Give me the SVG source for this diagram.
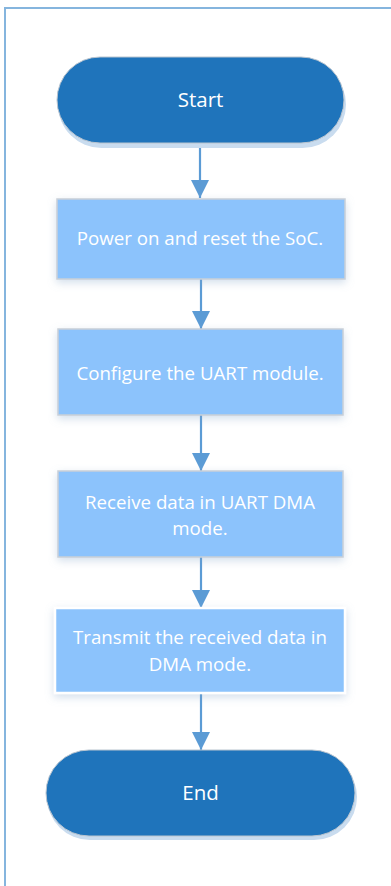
<svg xmlns="http://www.w3.org/2000/svg" width="391" height="886" viewBox="0 0 391 886">
<style>
.pill{fill:#1f74bb;stroke:#b9c4cf;stroke-width:1}
.pillsh{fill:#c9dcef}
.box{fill:#8cc3fc;stroke:#c9d0d8;stroke-width:1.5}
.box4{fill:#8cc3fc;stroke:#ffffff;stroke-width:2.5}
.t{font-family:"Open Sans","Liberation Sans",sans-serif;font-size:18.7px;fill:#ffffff;text-anchor:middle}
.tp{font-size:20.5px}
.c{stroke:#5b9bd5;stroke-width:2.2;fill:none}
</style>
<defs>
<filter id="sh" x="-20%" y="-30%" width="140%" height="160%">
<feDropShadow dx="0" dy="3" stdDeviation="4" flood-color="#7fa3c8" flood-opacity="0.35"/>
</filter>
<marker id="ah" markerUnits="userSpaceOnUse" markerWidth="18" markerHeight="18" viewBox="0 0 18 18" refX="18" refY="9" orient="auto">
<path d="M0,0 L18,9 L0,18 z" fill="#5b9bd5"/>
</marker>
</defs>
<rect x="5" y="8" width="400" height="900" fill="none" stroke="#85b5de" stroke-width="2"/>
<g id="connectors">
<line class="c" x1="200" y1="143" x2="200" y2="198" marker-end="url(#ah)"/>
<line class="c" x1="201" y1="279" x2="201" y2="329" marker-end="url(#ah)"/>
<line class="c" x1="201" y1="415" x2="201" y2="471" marker-end="url(#ah)"/>
<line class="c" x1="201" y1="557" x2="201" y2="608" marker-end="url(#ah)"/>
<line class="c" x1="201" y1="693" x2="201" y2="750" marker-end="url(#ah)"/>
</g>
<g id="start">
<rect class="pillsh" x="58" y="61" width="288" height="87" rx="43.5"/>
<rect class="pill" x="57" y="57" width="287" height="86" rx="43"/>
<text class="t tp" x="200.5" y="107">Start</text>
</g>
<g id="power">
<rect class="box" x="57" y="199" width="288" height="80" filter="url(#sh)"/>
<text class="t" x="200" y="245">Power on and reset the SoC.</text>
</g>
<g id="config">
<rect class="box" x="58" y="329" width="285" height="86" filter="url(#sh)"/>
<text class="t" x="200" y="380">Configure the UART module.</text>
</g>
<g id="receive">
<rect class="box" x="58" y="471" width="285" height="86" filter="url(#sh)"/>
<text class="t" x="200" y="509">Receive data in UART DMA</text>
<text class="t" x="200" y="535">mode.</text>
</g>
<g id="transmit">
<rect class="box4" x="55" y="608" width="290" height="85" filter="url(#sh)"/>
<text class="t" x="200" y="644">Transmit the received data in</text>
<text class="t" x="200" y="671">DMA mode.</text>
</g>
<g id="end">
<rect class="pillsh" x="47" y="754" width="310" height="86" rx="43"/>
<rect class="pill" x="46" y="750" width="309" height="86" rx="43"/>
<text class="t tp" x="200.5" y="800">End</text>
</g>
</svg>
